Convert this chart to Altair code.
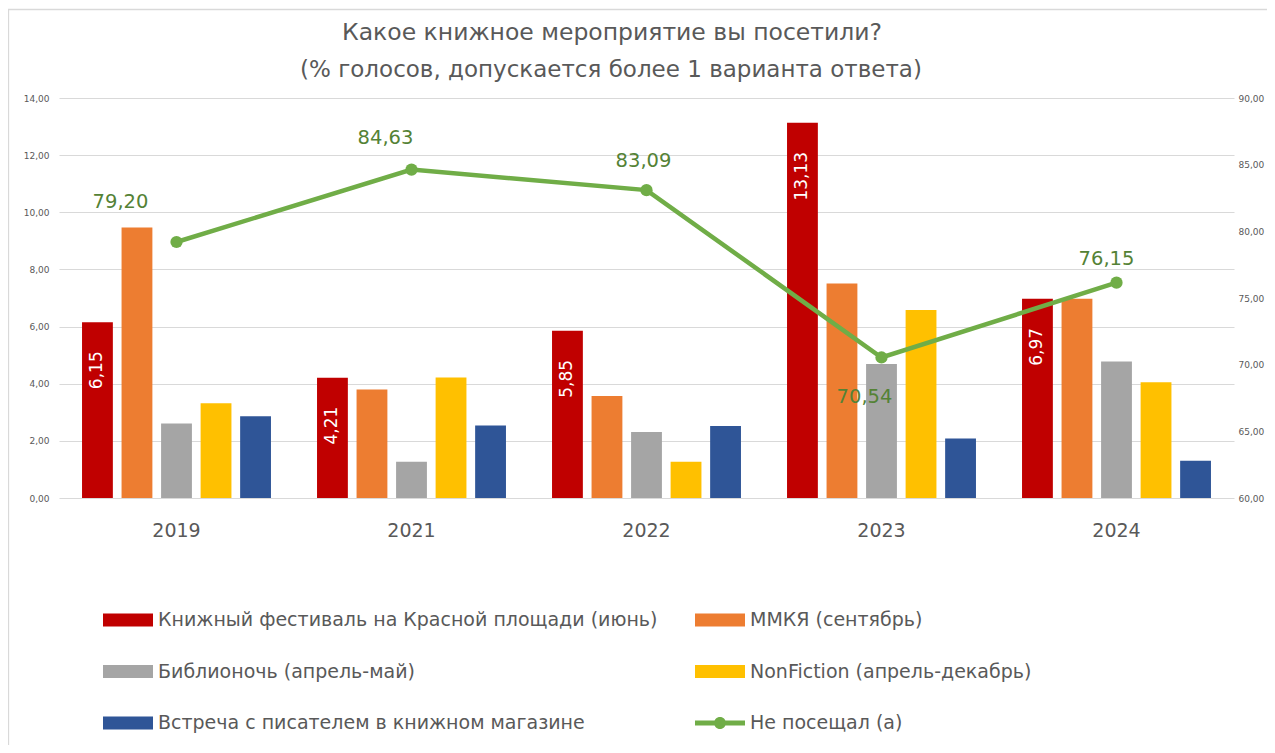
import altair as alt
import pandas as pd

# ---- data ----
years = ["2019", "2021", "2022", "2023", "2024"]
series_names = [
    "Книжный фестиваль на Красной площади (июнь)",
    "ММКЯ (сентябрь)",
    "Библионочь (апрель-май)",
    "NonFiction (апрель-декабрь)",
    "Встреча с писателем в книжном магазине",
]
festival = [6.15, 4.21, 5.85, 13.13, 6.97]
mmkya = [9.47, 3.80, 3.57, 7.51, 6.97]
biblionoch = [2.61, 1.27, 2.31, 4.69, 4.78]
nonfiction = [3.32, 4.22, 1.27, 6.58, 4.05]
meeting = [2.86, 2.54, 2.52, 2.08, 1.30]
line_name = "Не посещал (а)"
not_visited = [79.20, 84.63, 83.09, 70.54, 76.15]
left_ticks = [0, 2, 4, 6, 8, 10, 12, 14]
right_ticks = [60, 65, 70, 75, 80, 85, 90]
title_lines = ["Какое книжное мероприятие вы посетили?",
               "(% голосов, допускается более 1 варианта ответа)"]

# ---- styles ----
series_colors = ["#C00000", "#ED7D31", "#A5A5A5", "#FFC000", "#2F5597"]
line_color = "#70AD47"
FONT = "DejaVu Sans"
GREY_TXT = "#595959"
LABEL_GREEN = "#548235"

series_values = [festival, mmkya, biblionoch, nonfiction, meeting]
bar_rows = []
for name, vals in zip(series_names, series_values):
    for y, v in zip(years, vals):
        bar_rows.append({"year": y, "series": name, "value": v})
bars_df = pd.DataFrame(bar_rows)
line_df = pd.DataFrame({"year": years, "value": not_visited, "series": [line_name] * len(years)})

# legend is filled column by column: order the domain so rows read like the reference
all_names = series_names + [line_name]
all_colors = series_colors + [line_color]
legend_order = [0, 2, 4, 1, 3, 5]
color_domain = [all_names[i] for i in legend_order]
color_range = [all_colors[i] for i in legend_order]
color_scale = alt.Scale(domain=color_domain, range=color_range)

x_scale = alt.Scale(domain=years, paddingInner=0.196, paddingOuter=0.098)
x_axis = alt.Axis(title=None, domain=False, ticks=False, tickSize=0,
                  labelFont=FONT, labelFontSize=19, labelColor=GREY_TXT,
                  labelPadding=23, labelAngle=0)
xoff = alt.XOffset("series:N", sort=series_names,
                   scale=alt.Scale(domain=series_names, paddingInner=0.22, paddingOuter=0))

rect_path = "M-1,-0.26H1V0.26H-1Z"
line_path = ("M-1,-0.1H1V0.1H-1Z M-0.24,0 A0.24,0.24 0 1,1 0.24,0 "
             "A0.24,0.24 0 1,1 -0.24,0 Z")
legend = alt.Legend(
    title=None, orient="none", legendX=44, legendY=497, columns=2,
    columnPadding=37, rowPadding=16.5, padding=0,
    symbolType=alt.ExprRef(expr=f"datum.value == '{line_name}' ? '{line_path}' : '{rect_path}'"),
    symbolSize=2500, symbolStrokeWidth=0, symbolOpacity=1,
    labelFont=FONT, labelFontSize=19, labelColor=GREY_TXT, labelOffset=5, labelLimit=0,
)

fmt = "replace(format(datum.value, '.2f'), '.', ',')"

left_y = alt.Y("value:Q", scale=alt.Scale(domain=[0, 14], nice=False, zero=True),
               axis=alt.Axis(title=None, values=left_ticks, grid=True, gridColor="#D9D9D9",
                             gridWidth=1, domain=False, ticks=False, tickSize=0,
                             labelFont=FONT, labelFontSize=9, labelColor=GREY_TXT,
                             labelPadding=10, labelExpr=fmt))

right_y = alt.Y("value:Q", scale=alt.Scale(domain=[60, 90], nice=False, zero=False),
                axis=alt.Axis(title=None, orient="right", values=right_ticks, grid=False,
                              domain=False, ticks=False, tickSize=0,
                              labelFont=FONT, labelFontSize=9, labelColor=GREY_TXT,
                              labelPadding=4, labelExpr=fmt))

bars = alt.Chart(bars_df).mark_bar().encode(
    x=alt.X("year:N", scale=x_scale, sort=years, axis=x_axis),
    xOffset=xoff,
    y=left_y,
    color=alt.Color("series:N", scale=color_scale, legend=legend),
)

bar_labels = alt.Chart(bars_df).transform_filter(
    alt.datum.series == series_names[0]
).transform_calculate(txt=fmt).mark_text(
    angle=270, align="right", baseline="middle", dx=-29, color="white",
    font=FONT, fontSize=17
).encode(
    x=alt.X("year:N", scale=x_scale, sort=years, axis=x_axis),
    xOffset=xoff,
    y=left_y,
    text="txt:N",
)

line = alt.Chart(line_df).mark_line(
    strokeWidth=4.5, point=alt.OverlayMarkDef(filled=True, size=150, opacity=1)
).encode(
    x=alt.X("year:N", scale=x_scale, sort=years, axis=x_axis),
    y=right_y,
    color=alt.Color("series:N", scale=color_scale, legend=legend),
)

label_offsets = {"2019": (-56, -40), "2021": (-26, -32), "2022": (-3, -29),
                 "2023": (-17, 40), "2024": (-10, -24)}
line_labels = []
for yr in years:
    ddx, ddy = label_offsets[yr]
    line_labels.append(
        alt.Chart(line_df).transform_filter(alt.datum.year == yr).transform_calculate(
            txt=fmt
        ).mark_text(dx=ddx, dy=ddy, color=LABEL_GREEN, font=FONT, fontSize=19.5,
                    align="center", baseline="middle").encode(
            x=alt.X("year:N", scale=x_scale, sort=years, axis=x_axis),
            y=right_y,
            text="txt:N",
        )
    )

# chart frame and title (decorations, in pixels relative to the plot area)
border = alt.Chart(pd.DataFrame({"k": [0]})).mark_rect(
    fill="transparent", stroke="#D9D9D9", strokeWidth=1.3
).encode(x=alt.value(-50.5), x2=alt.value(1400), y=alt.value(-88.5), y2=alt.value(900))

title_df = pd.DataFrame({"t": title_lines, "i": [0, 1]})
title1 = alt.Chart(title_df).transform_filter(alt.datum.i == 0).mark_text(
    font=FONT, fontSize=23.5, color=GREY_TXT, align="center", baseline="middle"
).encode(text="t:N", x=alt.value(553), y=alt.value(-65))
title2 = alt.Chart(title_df).transform_filter(alt.datum.i == 1).mark_text(
    font=FONT, fontSize=23, color=GREY_TXT, align="center", baseline="middle"
).encode(text="t:N", x=alt.value(552), y=alt.value(-28))

chart = alt.layer(
    border, title1, title2,
    alt.layer(bars, bar_labels),
    alt.layer(line, *line_labels),
).resolve_scale(y="independent").properties(
    width=1175, height=400,
    autosize="none",
    padding={"left": 51, "top": 90, "right": 33, "bottom": 247},
).configure_view(strokeWidth=0)

chart.save("out.html", embed_options={"renderer": "svg", "actions": False})
